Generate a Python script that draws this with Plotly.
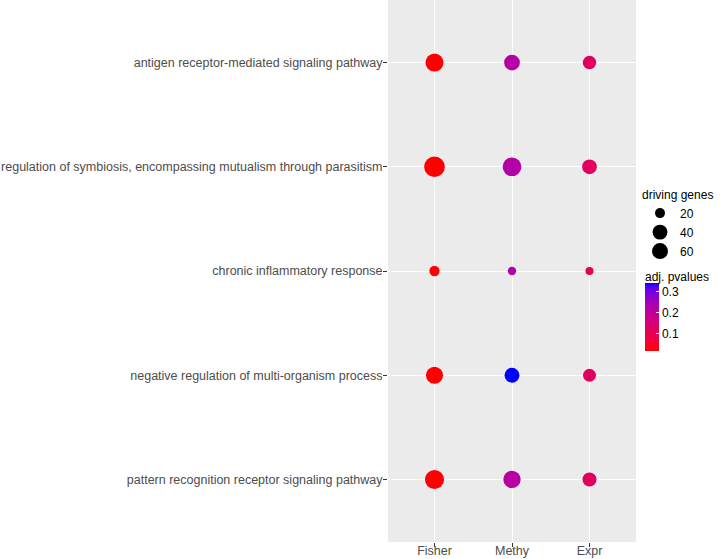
import plotly.graph_objects as go
import numpy as np

# ---------------- data ----------------
terms = [
    "antigen receptor-mediated signaling pathway",
    "regulation of symbiosis, encompassing mutualism through parasitism",
    "chronic inflammatory response",
    "negative regulation of multi-organism process",
    "pattern recognition receptor signaling pathway",
]
methods = ["Fisher", "Methy", "Expr"]

genes_fisher = [56, 72, 21, 51, 62]
genes_methy = [44, 60, 15, 40, 52]
genes_expr = [33, 39, 14, 31, 36]

pval_fisher = [0.016, 0.015, 0.018, 0.016, 0.015]
pval_methy = [0.218, 0.222, 0.226, 0.342, 0.214]
pval_expr = [0.121, 0.118, 0.095, 0.117, 0.119]

size_breaks = [20, 40, 60]
color_ticks = [0.1, 0.2, 0.3]

# ---------------- scales ----------------
def size_scale(v):
    # area-proportional size scale (diameter linear in sqrt(value))
    return 2.657 * np.sqrt(np.asarray(v, dtype=float)) - 1.88


def _srgb_to_lin(c):
    c = np.asarray(c, float)
    return np.where(c <= 0.04045, c / 12.92, ((c + 0.055) / 1.055) ** 2.4)


def _lin_to_srgb(c):
    c = np.clip(c, 0, 1)
    return np.where(c <= 0.0031308, 12.92 * c, 1.055 * c ** (1 / 2.4) - 0.055)


M = np.array([[0.4124, 0.3576, 0.1805], [0.2126, 0.7152, 0.0722], [0.0193, 0.1192, 0.9505]])
Minv = np.linalg.inv(M)
WP = np.array([0.95047, 1.0, 1.08883])


def rgb_to_lab(rgb):
    xyz = M @ _srgb_to_lin(rgb) / WP
    f = np.where(xyz > 0.008856, np.cbrt(xyz), 7.787 * xyz + 16 / 116)
    return np.array([116 * f[1] - 16, 500 * (f[0] - f[1]), 200 * (f[1] - f[2])])


def lab_to_rgb(lab):
    fy = (lab[0] + 16) / 116
    fx = fy + lab[1] / 500
    fz = fy - lab[2] / 200
    f = np.array([fx, fy, fz])
    xyz = np.where(f ** 3 > 0.008856, f ** 3, (f - 16 / 116) / 7.787) * WP
    return _lin_to_srgb(Minv @ xyz)


lab_lo = rgb_to_lab([1, 0, 0])
lab_hi = rgb_to_lab([0, 0, 1])
colorscale = []
for t in np.linspace(0, 1, 21):
    r, g, b = lab_to_rgb(lab_lo + t * (lab_hi - lab_lo))
    colorscale.append([float(t), "rgb(%d,%d,%d)" % (round(r * 255), round(g * 255), round(b * 255))])

# ---------------- long format ----------------
xs, ys, genes, pvals = [], [], [], []
for m, g_list, p_list in [("Fisher", genes_fisher, pval_fisher),
                          ("Methy", genes_methy, pval_methy),
                          ("Expr", genes_expr, pval_expr)]:
    for term, g, p in zip(terms, g_list, p_list):
        xs.append(m)
        ys.append(term)
        genes.append(g)
        pvals.append(p)

FONT = "Liberation Sans, Arial, sans-serif"
W, H = 722, 559

fig = go.Figure()
fig.add_trace(go.Scatter(
    x=xs, y=ys, mode="markers", showlegend=False,
    marker=dict(
        size=size_scale(genes), color=pvals, opacity=1,
        colorscale=colorscale, cmin=min(pvals), cmax=max(pvals),
        line=dict(width=0),
        colorbar=dict(
            xref="container", yref="container",
            x=645 / W, xanchor="left", y=1 - 292 / H, yanchor="top",
            len=68, lenmode="pixels", thickness=14,
            xpad=0, ypad=0, outlinewidth=0,
            ticks="inside", ticklen=3, tickcolor="white",
            tickvals=color_ticks, tickfont=dict(size=12, color="black", family=FONT),
        ),
    ),
))

for b in size_breaks:
    fig.add_trace(go.Scatter(
        x=[None], y=[None], mode="markers", name=str(b), showlegend=True,
        marker=dict(size=float(size_scale(b)), color="black", opacity=1, line=dict(width=0)),
    ))

fig.add_annotation(
    text="adj. pvalues", xref="paper", yref="paper",
    x=(643 - 388) / (722 - 388 - 86), xanchor="left",
    y=(559 - 17 - 277) / (559 - 17), yanchor="middle",
    showarrow=False, font=dict(size=12, color="black", family=FONT),
)

fig.update_layout(
    width=W, height=H,
    margin=dict(l=388, r=86, t=0, b=17, autoexpand=False),
    paper_bgcolor="white", plot_bgcolor="#EBEBEB",
    font=dict(family=FONT, size=12, color="black"),
    legend=dict(
        title=dict(text="driving genes", font=dict(size=12, color="black")),
        xref="container", yref="container",
        x=640 / W, xanchor="left", y=1 - 183 / H, yanchor="top",
        itemsizing="trace", bgcolor="rgba(0,0,0,0)", tracegroupgap=0,
        font=dict(size=12, color="black"),
    ),
    xaxis=dict(
        type="category", categoryorder="array", categoryarray=methods,
        range=[-0.6, 2.6], showgrid=True, gridcolor="white", gridwidth=1,
        zeroline=False, ticks="outside", ticklen=4, tickcolor="#333333",
        ticklabelstandoff=-7,
        tickfont=dict(size=12.5, color="#4D4D4D"), automargin=False,
    ),
    yaxis=dict(
        type="category", categoryorder="array", categoryarray=terms,
        range=[4.6, -0.6], showgrid=True, gridcolor="white", gridwidth=1,
        zeroline=False, ticks="outside", ticklen=4, tickcolor="#333333",
        ticklabelstandoff=-2,
        tickfont=dict(size=12.5, color="#4D4D4D"), automargin=False,
    ),
)

fig.write_html("out.html", config={"displayModeBar": False},
               post_script="document.body.style.margin='0';")
